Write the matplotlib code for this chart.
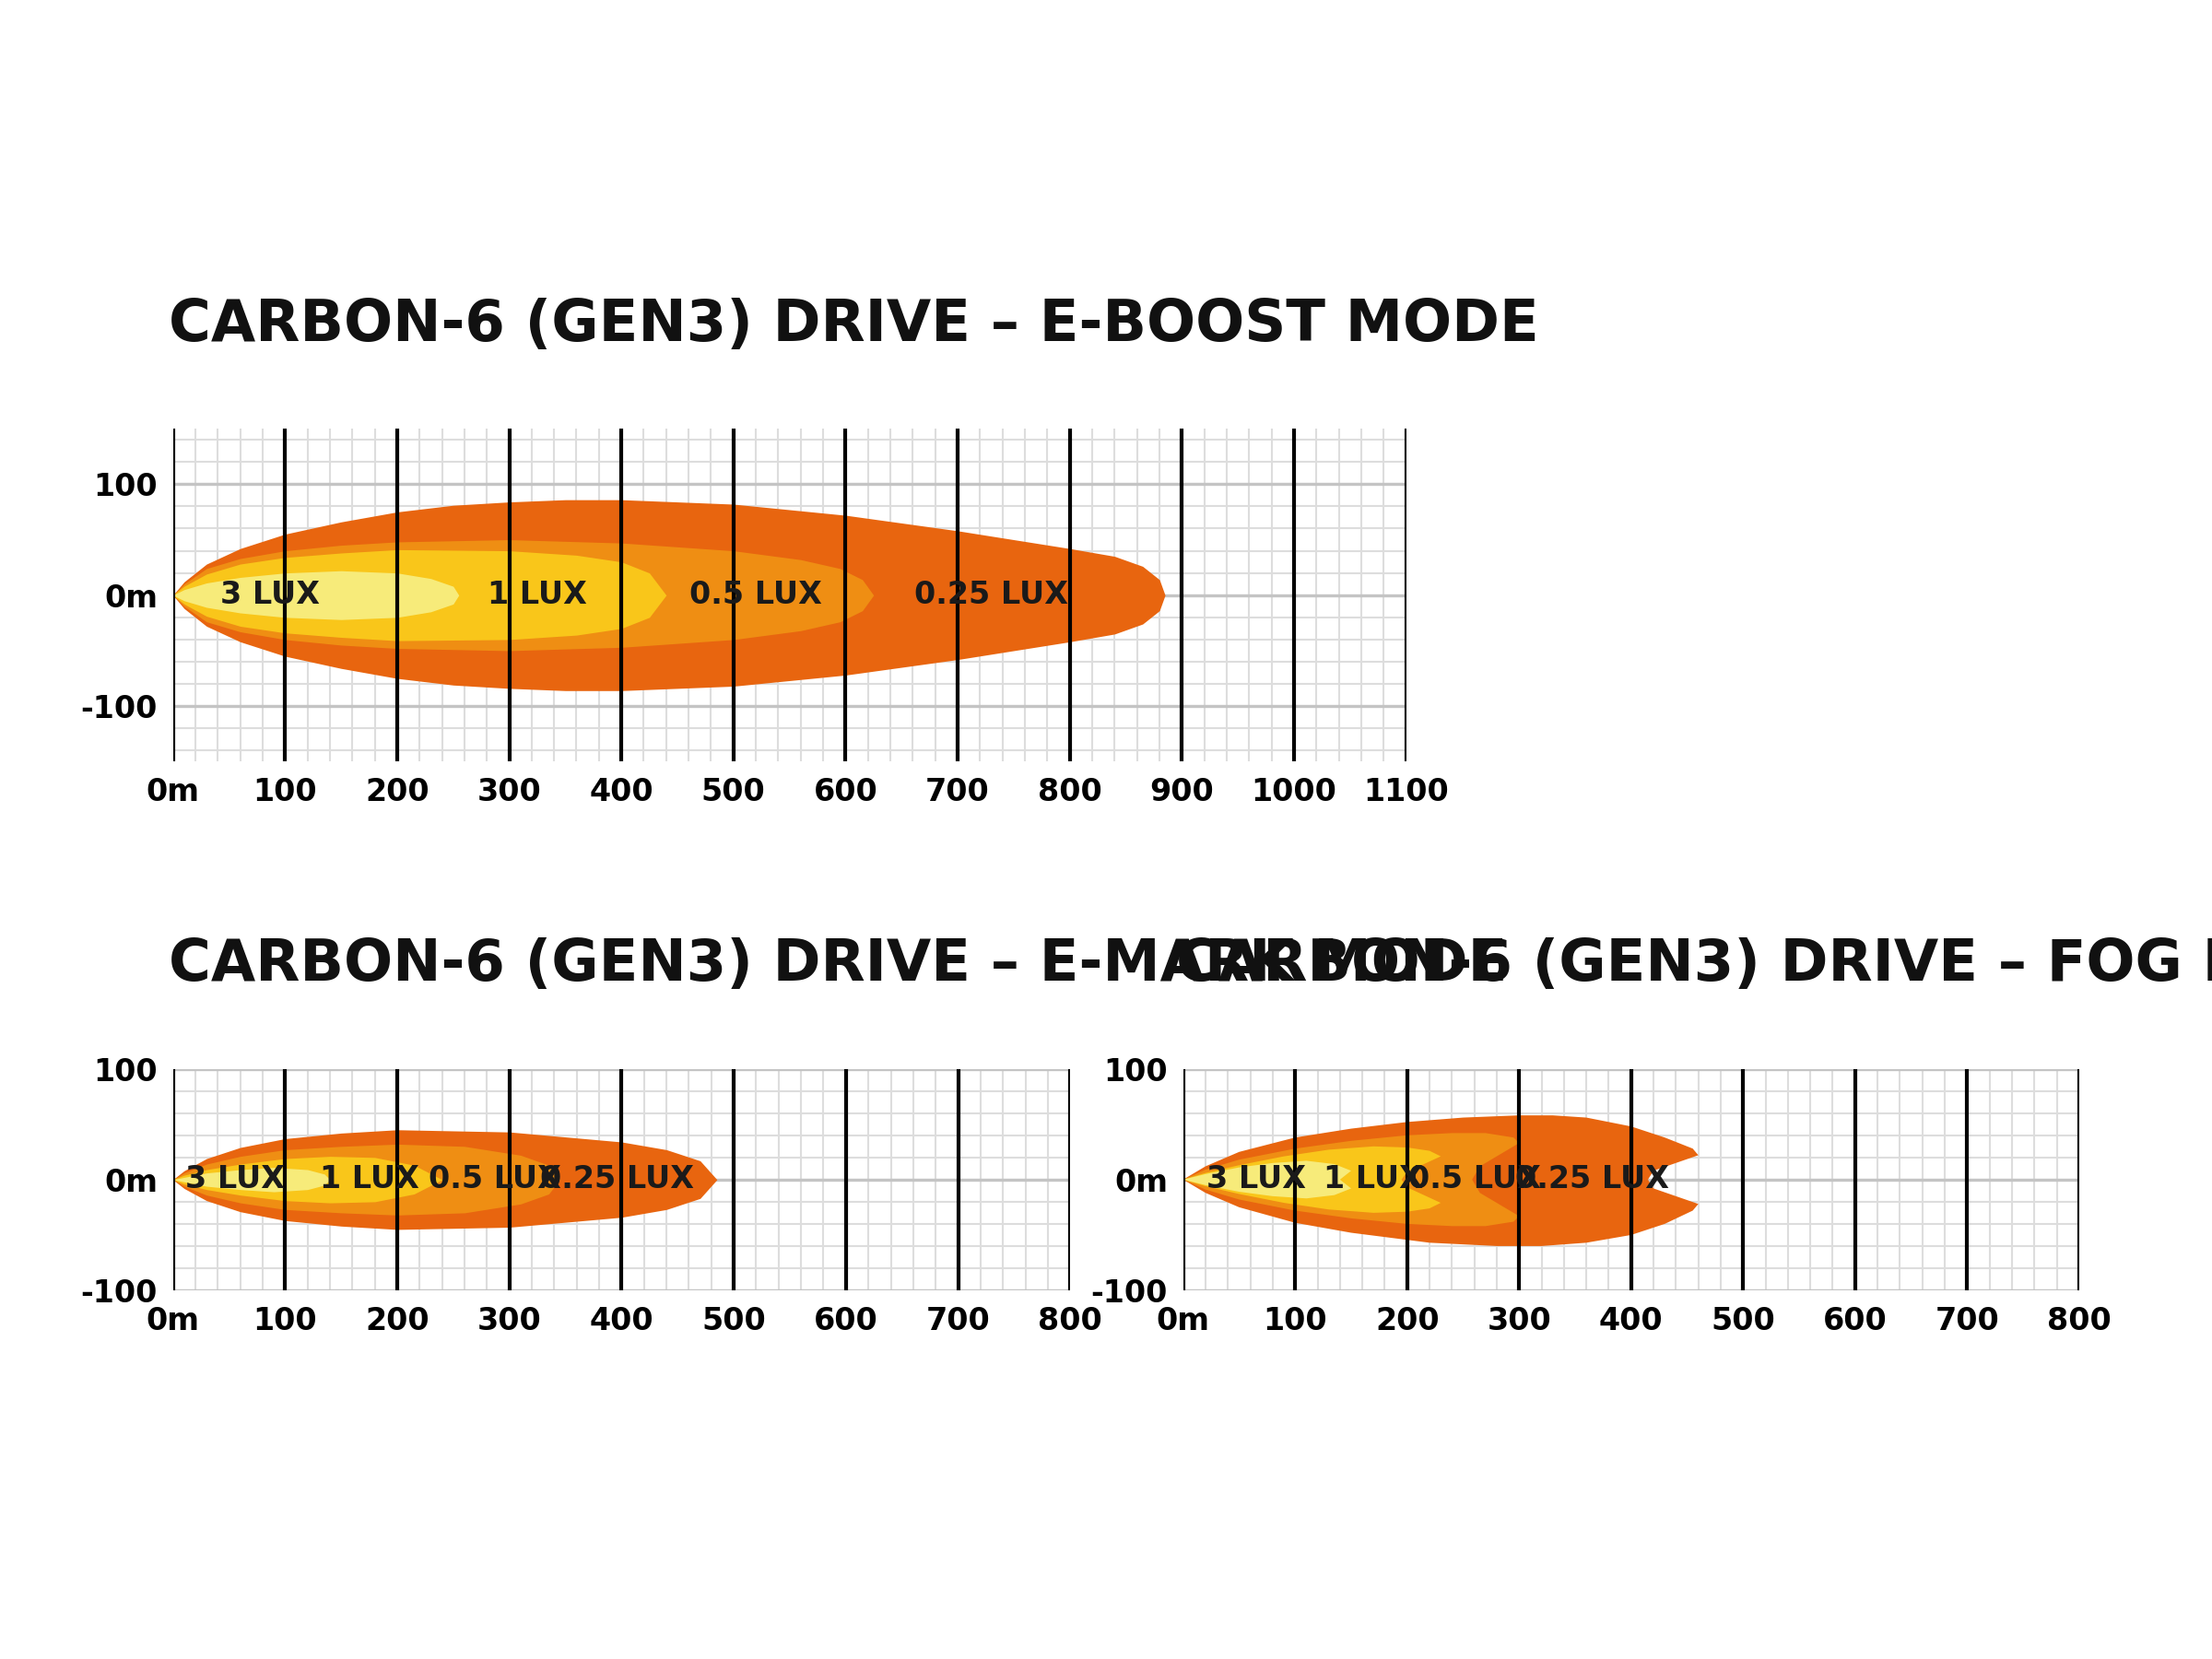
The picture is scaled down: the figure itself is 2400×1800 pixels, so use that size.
import matplotlib
matplotlib.use("Agg")
import matplotlib.pyplot as plt
import numpy as np

C025, C05, C1, C3 = "#E8650F", "#EF8E13", "#F9C61A", "#F7EB7A"

# E-BOOST: (x, half-width) upper boundary profiles
boost_025_x = [0, 10, 30, 60, 100, 150, 200, 250, 300, 350, 400, 500, 600, 700, 800, 840, 865, 880, 885]
boost_025_y = [0, 12, 28, 42, 55, 66, 75, 81, 84, 86, 86, 82, 72, 58, 42, 35, 26, 14, 0]
boost_05_x = [0, 10, 30, 60, 100, 150, 200, 300, 400, 500, 560, 595, 615, 625]
boost_05_y = [0, 10, 24, 33, 40, 45, 48, 50, 47, 40, 32, 24, 14, 0]
boost_1_x = [0, 10, 30, 60, 100, 150, 200, 300, 360, 400, 425, 440]
boost_1_y = [0, 8, 19, 28, 34, 38, 41, 40, 36, 30, 20, 0]
boost_3_x = [0, 10, 30, 60, 100, 150, 200, 230, 250, 255]
boost_3_y = [0, 5, 11, 16, 20, 22, 20, 15, 8, 0]

emark_025_x = [0, 10, 30, 60, 100, 150, 200, 300, 400, 440, 470, 485]
emark_025_y = [0, 8, 19, 29, 37, 42, 45, 43, 34, 27, 17, 0]
emark_05_x = [0, 10, 30, 60, 100, 150, 200, 260, 310, 335, 345]
emark_05_y = [0, 6, 14, 21, 27, 30, 32, 30, 22, 13, 0]
emark_1_x = [0, 10, 30, 60, 100, 140, 180, 215, 240]
emark_1_y = [0, 4, 9, 14, 19, 21, 20, 13, 0]
emark_3_x = [0, 10, 30, 60, 90, 120, 135, 140]
emark_3_y = [0, 2, 6, 9, 11, 9, 5, 0]

# FOG: closed polygons (x, y)
fog_025_x = [0, 20, 50, 100, 150, 200, 250, 300, 330, 360, 400, 430, 455, 460, 440, 420, 415, 420, 440, 460, 455, 430, 400, 360, 320, 280, 220, 150, 100, 50, 20, 0]
fog_025_y = [0, 12, 25, 38, 46, 52, 56, 58, 58, 56, 48, 38, 28, 22, 15, 8, 0, -8, -15, -22, -28, -40, -50, -57, -60, -60, -57, -48, -39, -25, -12, 0]
fog_05_x = [0, 20, 50, 100, 150, 200, 240, 270, 295, 300, 285, 265, 258, 265, 285, 300, 295, 270, 240, 200, 150, 100, 50, 20, 0]
fog_05_y = [0, 9, 18, 28, 35, 40, 42, 42, 38, 33, 24, 12, 0, -12, -24, -33, -38, -42, -42, -40, -35, -28, -18, -9, 0]
fog_1_x = [0, 20, 50, 90, 130, 170, 200, 220, 230, 215, 200, 195, 200, 215, 230, 220, 200, 170, 130, 90, 50, 20, 0]
fog_1_y = [0, 6, 13, 21, 27, 30, 29, 26, 21, 14, 7, 0, -7, -14, -21, -26, -29, -30, -27, -21, -13, -6, 0]
fog_3_x = [0, 20, 50, 80, 110, 135, 150, 140, 150, 135, 110, 80, 50, 20, 0]
fog_3_y = [0, 5, 11, 15, 17, 14, 8, 0, -8, -14, -17, -15, -11, -5, 0]

lux_labels = ["3 LUX", "1 LUX", "0.5 LUX", "0.25 LUX"]
boost_label_x = [87, 325, 520, 730]
emark_label_x = [55, 175, 287, 396]
fog_label_x = [65, 170, 260, 365]

titles = ["CARBON-6 (GEN3) DRIVE – E-BOOST MODE", "CARBON-6 (GEN3) DRIVE – E-MARK MODE", "CARBON-6 (GEN3) DRIVE – FOG MODE"]

FAM = ["Liberation Sans Narrow", "DejaVu Sans"]
FONT = dict(family=FAM, fontweight="bold")

fig = plt.figure(figsize=(8, 6), dpi=300)
W, H = 1548, 1161
def ax_at(x0, x1, ytop, ybot):
    return fig.add_axes([x0 / W, 1 - ybot / H, (x1 - x0) / W, (ybot - ytop) / H])

def setup(ax, xmax, ylim, yticks):
    ax.set_xlim(0, xmax); ax.set_ylim(*ylim)
    for s in ax.spines.values(): s.set_visible(False)
    for x in np.arange(0, xmax + 1, 20):
        if x % 100:
            ax.axvline(x, color="#dddddd", lw=0.5, zorder=0)
    for y in np.arange(-200, 201, 20):
        if ylim[0] < y < ylim[1]:
            ax.axhline(y, color="#dddddd", lw=0.5, zorder=0)
    for y in yticks:
        ax.axhline(y, color="#c4c4c4", lw=0.8, zorder=0)
    for x in np.arange(0, xmax + 1, 100):
        ax.axvline(x, color="black", lw=1.0, zorder=5)
    xt = np.arange(0, xmax + 1, 100)
    ax.set_xticks(xt, ["0m"] + [str(v) for v in xt[1:]])
    ax.set_yticks(yticks, [("0m" if v == 0 else str(v)) for v in yticks])
    ax.tick_params(length=0, labelsize=8, pad=4)
    for lab in ax.get_xticklabels() + ax.get_yticklabels():
        lab.set_family(FAM); lab.set_fontweight("bold")

def sym(ax, xs, ys, c, z):
    xs = np.array(xs, float); ys = np.array(ys, float)
    ax.fill_between(xs, ys, -ys, color=c, lw=0, zorder=z)

def labels(ax, xs):
    for x, t in zip(xs, lux_labels):
        ax.text(x, 0, t, ha="center", va="center", fontsize=8, color="#1a1a1a", zorder=10, **FONT)

ax1 = ax_at(121, 984, 300, 533)
setup(ax1, 1100, (-150, 150), [100, 0, -100])
sym(ax1, boost_025_x, boost_025_y, C025, 2)
sym(ax1, boost_05_x, boost_05_y, C05, 3)
sym(ax1, boost_1_x, boost_1_y, C1, 4)
sym(ax1, boost_3_x, boost_3_y, C3, 4.5)
labels(ax1, boost_label_x)

ax2 = ax_at(121, 749, 748, 903)
setup(ax2, 800, (-100, 100), [100, 0, -100])
sym(ax2, emark_025_x, emark_025_y, C025, 2)
sym(ax2, emark_05_x, emark_05_y, C05, 3)
sym(ax2, emark_1_x, emark_1_y, C1, 4)
sym(ax2, emark_3_x, emark_3_y, C3, 4.5)
labels(ax2, emark_label_x)

ax3 = ax_at(828, 1455, 748, 903)
setup(ax3, 800, (-100, 100), [100, 0, -100])
ax3.fill(fog_025_x, fog_025_y, color=C025, lw=0, zorder=2)
ax3.fill(fog_05_x, fog_05_y, color=C05, lw=0, zorder=3)
ax3.fill(fog_1_x, fog_1_y, color=C1, lw=0, zorder=4)
ax3.fill(fog_3_x, fog_3_y, color=C3, lw=0, zorder=4.5)
labels(ax3, fog_label_x)

fig.text(118 / W, 1 - 228 / H, titles[0], fontsize=15, va="center", ha="left", color="#111111", **FONT)
fig.text(118 / W, 1 - 675 / H, titles[1], fontsize=15, va="center", ha="left", color="#111111", **FONT)
fig.text(823 / W, 1 - 675 / H, titles[2], fontsize=15, va="center", ha="left", color="#111111", **FONT)

fig.savefig("out.png", dpi=300, facecolor="white")
